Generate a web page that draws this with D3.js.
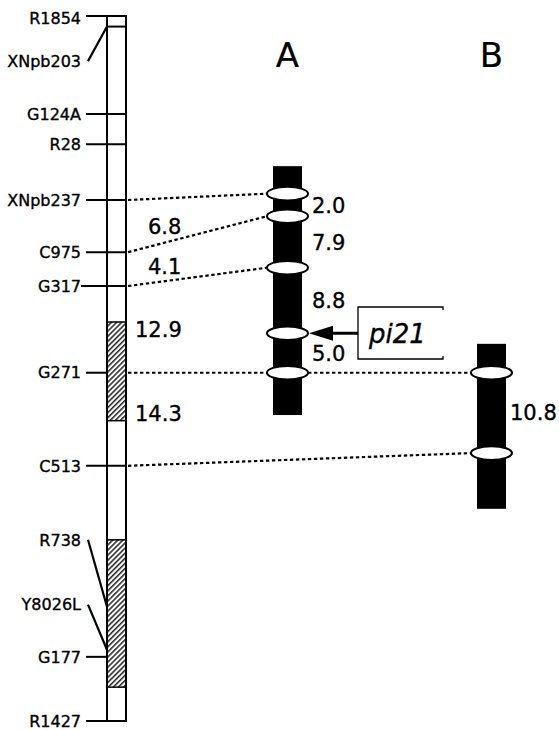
<!DOCTYPE html>
<html><head><meta charset="utf-8">
<script src="https://cdn.jsdelivr.net/npm/d3@7"></script>
<style>body{margin:0;background:#fff}svg{display:block}text{font-family:"DejaVu Sans",sans-serif;fill:#000;stroke:#000;stroke-width:0.35px}</style>
</head><body>
<script>
// ---- data ----
const markerNames = ["R1854","XNpb203","G124A","R28","XNpb237","C975","G317","G271","C513","R738","Y8026L","G177","R1427"];
const markerPos   = [0, 1.5, 13.9, 18.2, 26.1, 33.5, 38.3, 50.6, 63.8, 83.8, 89.9, 90.9, 100];
const labelPos    = [0.3, 6.4, 13.9, 18.2, 26.1, 33.5, 38.3, 50.6, 63.8, 74.3, 83.5, 90.9, 100];
const topBoxEnd   = 1.5;
const hatchStart  = [43.4, 74.3];
const hatchEnd    = [57.4, 95.2];
const mainIntervals = [["XNpb237","C975","6.8"],["C975","G317","4.1"],["G317","G271","12.9"],["G271","C513","14.3"]];

const chrA = {name:"A", start:21.3, end:56.6};
const chrAMarkers = ["XNpb237","C975","G317","pi21","G271"];
const chrAPos     = [25.2, 28.4, 35.7, 45.0, 50.6];
const chrADist    = ["2.0","7.9","8.8","5.0"];

const chrB = {name:"B", start:46.5, end:69.9};
const chrBMarkers = ["G271","C513"];
const chrBPos     = [50.6, 62.0];
const chrBDist    = ["10.8"];

const geneName = "pi21";

// ---- layout ----
const W = 559, H = 730;
const y = d3.scaleLinear().domain([0,100]).range([16,721]);
const mainX = [107,126], aX = [273,302], bX = [477,506];
const aC = (aX[0]+aX[1])/2, bC = (bX[0]+bX[1])/2;
const RX = 20.5, RY = 6.8;

const svg = d3.select("body").append("svg").attr("width",W).attr("height",H);
const defs = svg.append("defs");
const pat = defs.append("pattern").attr("id","hatch").attr("patternUnits","userSpaceOnUse")
  .attr("width",3.6).attr("height",3.6).attr("patternTransform","rotate(45)");
pat.append("rect").attr("width",3.6).attr("height",3.6).attr("fill","#fff");
pat.append("line").attr("x1",0.8).attr("y1",0).attr("x2",0.8).attr("y2",3.6).attr("stroke","#000").attr("stroke-width",1.3);

// main chromosome
const g = svg.append("g");
hatchStart.forEach((s,i)=>{
  g.append("rect").attr("x",mainX[0]).attr("y",y(s)).attr("width",mainX[1]-mainX[0]).attr("height",y(hatchEnd[i])-y(s)).attr("fill","url(#hatch)");
});
g.append("rect").attr("x",mainX[0]).attr("y",y(0)).attr("width",mainX[1]-mainX[0]).attr("height",y(100)-y(0))
  .attr("fill","none").attr("stroke","#000").attr("stroke-width",2);
g.append("line").attr("x1",mainX[0]).attr("x2",mainX[1]).attr("y1",y(topBoxEnd)).attr("y2",y(topBoxEnd)).attr("stroke","#000").attr("stroke-width",2);
hatchStart.forEach((s,i)=>{
  [s,hatchEnd[i]].forEach(v=>g.append("line").attr("x1",mainX[0]).attr("x2",mainX[1]).attr("y1",y(v)).attr("y2",y(v)).attr("stroke","#000").attr("stroke-width",1.5));
});

const inHatch = p => hatchStart.some((s,i)=>p>s && p<hatchEnd[i]);
markerNames.forEach((n,i)=>{
  const straight = Math.abs(labelPos[i]-markerPos[i])<0.5 && i!==1;
  const cross = straight && !inHatch(markerPos[i]);
  const lx = 81;
  g.append("text").attr("x",lx).attr("y",y(labelPos[i])).attr("dy","0.36em").attr("text-anchor","end")
    .attr("font-size",16).text(n);
  if (straight) {
    g.append("line").attr("x1",n==="G317"?lx:86).attr("y1",y(markerPos[i])).attr("x2",cross?mainX[1]:mainX[0]).attr("y2",y(markerPos[i]))
      .attr("stroke","#000").attr("stroke-width",2);
  } else {
    g.append("line").attr("x1",88).attr("y1",y(labelPos[i])).attr("x2",mainX[0]).attr("y2",y(markerPos[i]))
      .attr("stroke","#000").attr("stroke-width",2.2);
  }
});
const mp = n => markerPos[markerNames.indexOf(n)];
mainIntervals.forEach(([a,b,t],i)=>{
  g.append("text").attr("x", i<2?148:135).attr("y",(y(mp(a))+y(mp(b)))/2 - (i===3?6:(i===1?3:0))).attr("dy","0.36em")
    .attr("font-size",21).text(t);
});

// dotted links
const dot = {stroke:"#000","stroke-width":2.2,"stroke-dasharray":"3.4,2.6"};
function dline(x1,y1,x2,y2){const l=svg.append("line").attr("x1",x1).attr("y1",y1).attr("x2",x2).attr("y2",y2);Object.entries(dot).forEach(([k,v])=>l.attr(k,v));}
chrAMarkers.forEach((n,i)=>{ if(markerNames.includes(n)) dline(mainX[1]+2, y(mp(n)), aC-RX, y(chrAPos[i])); });
chrBMarkers.forEach((n,i)=>{
  const ai = chrAMarkers.indexOf(n);
  if (ai>=0) dline(aC+RX, y(chrAPos[ai]), bC-RX, y(chrBPos[i]));
  else dline(mainX[1]+2, y(mp(n)), bC-RX, y(chrBPos[i]));
});

// chromosome bars
function drawChr(c, xr, pos, dist, cx, off){
  svg.append("rect").attr("x",xr[0]).attr("y",y(c.start)).attr("width",xr[1]-xr[0]).attr("height",y(c.end)-y(c.start)).attr("fill","#000");
  pos.forEach(p=>svg.append("ellipse").attr("cx",cx).attr("cy",y(p)).attr("rx",RX).attr("ry",RY).attr("fill","#fff").attr("stroke","#000").attr("stroke-width",2));
  dist.forEach((t,i)=>svg.append("text").attr("x",xr[1]+off).attr("y",(y(pos[i])+y(pos[i+1]))/2).attr("dy","0.36em").attr("font-size",21).text(t));
  svg.append("text").attr("x",cx).attr("y",67).attr("text-anchor","middle").attr("font-size",34).style("stroke-width","0.2px").text(c.name);
}
drawChr(chrA, aX, chrAPos, chrADist, aC, 10);
drawChr(chrB, bX, chrBPos, chrBDist, bC, 4);

// gene box + arrow
const gy = y(chrAPos[chrAMarkers.indexOf(geneName)]);
const bx0 = 358, bx1 = 443, by0 = 307, by1 = 359;
svg.append("path").attr("d",`M${bx1},${by0+3}V${by0}H${bx0}V${by1}H${bx1}V${by1-3}`).attr("fill","none").attr("stroke","#000").attr("stroke-width",1.3);
svg.append("line").attr("x1",bx0).attr("y1",gy).attr("x2",330).attr("y2",gy).attr("stroke","#000").attr("stroke-width",3);
svg.append("path").attr("d",`M${aC+RX+1},${gy}L${333},${gy-7.5}L${333},${gy+7.5}Z`).attr("fill","#000");
svg.append("text").attr("x",369).attr("y",gy).attr("dy","0.36em").attr("font-size",26).attr("font-style","italic").text(geneName);
</script>
</body></html>
